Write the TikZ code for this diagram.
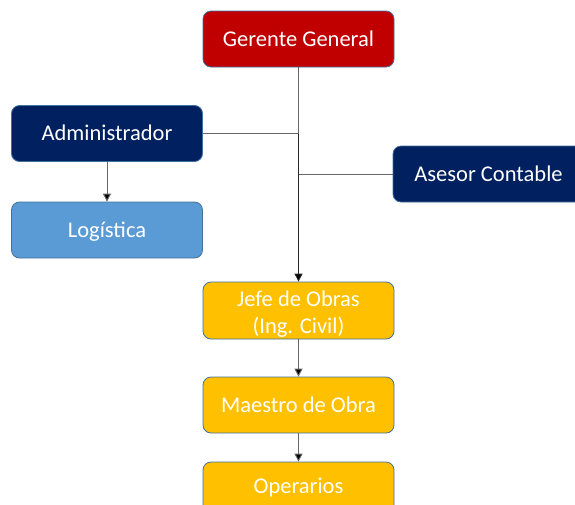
\documentclass[tikz,border=0pt]{standalone}
\usepackage{fontspec}
\setmainfont{Carlito}
\usetikzlibrary{arrows.meta}
\definecolor{gred}{HTML}{C00000}
\definecolor{gnavy}{HTML}{002060}
\definecolor{glight}{HTML}{5B9BD5}
\definecolor{gyellow}{HTML}{FFC000}
\definecolor{gborder}{HTML}{41719C}
\begin{document}
\begin{tikzpicture}[x=1pt,y=-1pt,
  box/.style={draw=gborder,line width=0.8pt,rounded corners=8pt,minimum width=191pt,minimum height=56pt,
    text=white,font=\fontsize{22.5}{27}\selectfont,align=center,inner sep=0pt},
  one/.style={text height=17pt,text depth=2.5pt},
  conn/.style={draw=black!60,line width=0.9pt},
  arr/.style={conn,-{Triangle[length=8pt,width=8pt,fill=black]}}]
\useasboundingbox (0,0) rectangle (575,504);
\begin{scope}
\clip (0,0) rectangle (575,504);
\node[box,one,fill=gred] (gg) at (298.5,39) {Gerente General};
\node[box,one,fill=gnavy] (adm) at (107,133.5) {Administrador};
\node[box,one,fill=glight] (log) at (107,230) {Logística};
\node[box,one,fill=gnavy] (ase) at (488.5,174) {Asesor Contable};
\node[box,fill=gyellow,minimum height=57pt] (jefe) at (298.5,310.5) {\rule{0pt}{23pt}Jefe de Obras\\(Ing. Civil)};
\node[box,one,fill=gyellow] (mae) at (298.5,405) {Maestro de Obra};
\node[box,fill=gyellow,text height=17pt,text depth=10.5pt] (ope) at (298.5,490) {Operarios};
\end{scope}
\coordinate (j1) at (gg.south |- adm.east);
\coordinate (j2) at (gg.south |- ase.west);
\draw[conn] (adm.east) -- (j1);
\draw[conn] (ase.west) -- (j2);
\draw[conn] (gg.south) -- (j1);
\draw[arr,draw=black!85] (j1) -- (jefe.north);
\draw[arr] (adm.south) -- (log.north);
\draw[arr] (jefe.south) -- (mae.north);
\draw[arr] (mae.south) -- (ope.north);
\end{tikzpicture}
\end{document}
